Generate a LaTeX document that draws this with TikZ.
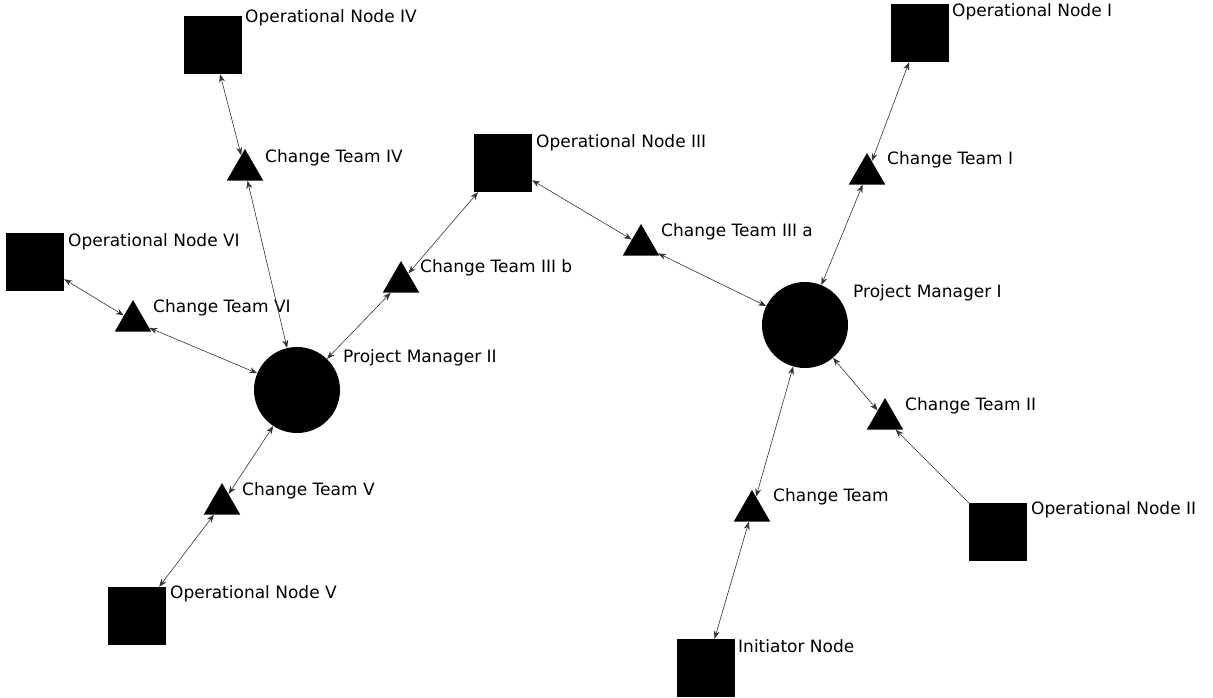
\documentclass[tikz,border=0pt]{standalone}
\usepackage{fontspec}
\setmainfont{DejaVu Sans}
\usetikzlibrary{shapes.geometric,arrows.meta}
\begin{document}
\begin{tikzpicture}[x=1pt,y=-1pt,
  opnode/.style={rectangle,fill=black,minimum size=58pt,inner sep=0pt},
  team/.style={regular polygon,regular polygon sides=3,fill=black,minimum size=42pt,inner sep=0pt},
  manager/.style={circle,fill=black,minimum size=86pt,inner sep=0pt},
  lbl/.style={anchor=west,inner sep=0pt,font=\fontsize{17}{20}\selectfont},
  link/.style={draw=black!80,line width=0.6pt,{Stealth[length=8pt,width=6pt]}-{Stealth[length=8pt,width=6pt]}},
  onelink/.style={draw=black!80,line width=0.6pt,-{Stealth[length=8pt,width=6pt]}},
]
\useasboundingbox (0,0) rectangle (1213,697);

% operational nodes
\node[opnode] (op4) at (212.5,45) {};
\node[opnode] (op3) at (503,163) {};
\node[opnode] (op1) at (920,33) {};
\node[opnode] (op6) at (35,261.5) {};
\node[opnode] (op2) at (998,532) {};
\node[opnode] (op5) at (137,616) {};
\node[opnode] (init) at (706,668) {};

% change teams
\node[team] (ct4) at (245,170) {};
\node[team] (ct1) at (867,174) {};
\node[team] (ct6) at (133,321) {};
\node[team] (ct3b) at (401,282) {};
\node[team] (ct3a) at (641,245) {};
\node[team] (ct2) at (885,419) {};
\node[team] (ct5) at (222,504) {};
\node[team] (ct0) at (752,511) {};

% project managers
\node[manager] (pm1) at (805,325) {};
\node[manager] (pm2) at (297,390) {};

% labels
\node[lbl] (l-op4) at (245,18) {Operational Node IV};
\node[lbl] (l-op3) at (536,143) {Operational Node III};
\node[lbl] (l-op1) at (952,12) {Operational Node I};
\node[lbl] (l-op6) at (68,242) {Operational Node VI};
\node[lbl] (l-op2) at (1031,510) {Operational Node II};
\node[lbl] (l-op5) at (170,594) {Operational Node V};
\node[lbl] (l-init) at (738,646) {Initiator Node};
\node[lbl] (l-ct4) at (265,158) {Change Team IV};
\node[lbl] (l-ct1) at (887,160) {Change Team I};
\node[lbl] (l-ct6) at (153,308) {Change Team VI};
\node[lbl] (l-ct3b) at (420,268) {Change Team III b};
\node[lbl] (l-ct3a) at (661,232) {Change Team III a};
\node[lbl] (l-ct2) at (905,406) {Change Team II};
\node[lbl] (l-ct5) at (242,491) {Change Team V};
\node[lbl] (l-ct0) at (773,497) {Change Team};
\node[lbl] (l-pm1) at (853,293) {Project Manager I};
\node[lbl] (l-pm2) at (343,358) {Project Manager II};

% connectors
\draw[link] (op4) -- (ct4);
\draw[link] (ct4) -- (pm2);
\draw[link] (op6) -- (ct6);
\draw[link] (ct6) -- (pm2);
\draw[link] (op3) -- (ct3b);
\draw[link] (ct3b) -- (pm2);
\draw[link] (op3) -- (ct3a);
\draw[link] (ct3a) -- (pm1);
\draw[link] (op1) -- (ct1);
\draw[link] (ct1) -- (pm1);
\draw[link] (pm1) -- (ct2);
\draw[onelink] (op2) -- (ct2);
\draw[link] (pm2) -- (ct5);
\draw[link] (ct5) -- (op5);
\draw[link] (pm1) -- (ct0);
\draw[link] (ct0) -- (init);
\end{tikzpicture}
\end{document}
